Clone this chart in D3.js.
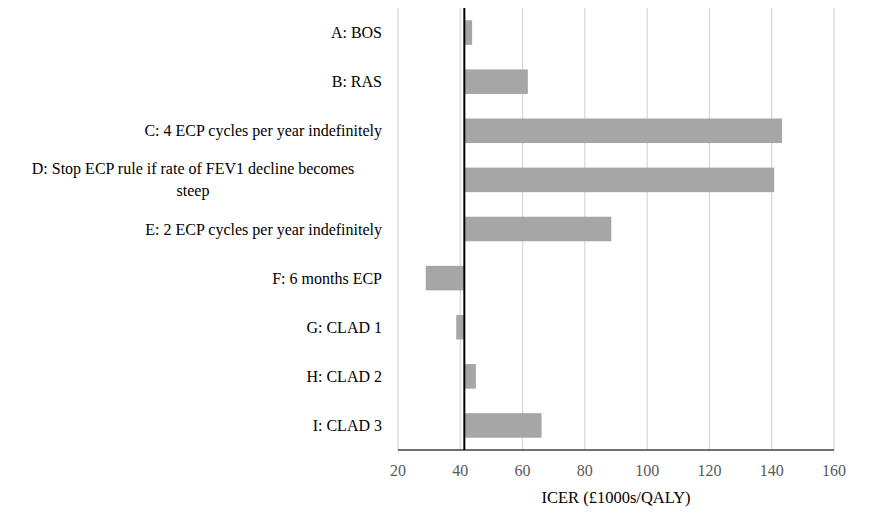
<!DOCTYPE html>
<html><head><meta charset="utf-8">
<script src="https://cdn.jsdelivr.net/npm/d3@7"></script>
<style>body{margin:0;background:#fff}</style></head>
<body><svg id="c" width="874" height="524"></svg>
<script>
const categories = [["A: BOS"],["B: RAS"],["C: 4 ECP cycles per year indefinitely"],["D: Stop ECP rule if rate of FEV1 decline becomes","steep"],["E: 2 ECP cycles per year indefinitely"],["F: 6 months ECP"],["G: CLAD 1"],["H: CLAD 2"],["I: CLAD 3"]];
const values = [43.8, 61.7, 143.3, 140.8, 88.5, 28.9, 38.7, 45.0, 66.1];
const baseValue = 41.3;
const xTicks = [20,40,60,80,100,120,140,160];
const xTitle = "ICER (£1000s/QALY)";

const svg = d3.select("#c");
const font = "Liberation Serif";
const x = d3.scaleLinear().domain([20,160]).range([398,834]);
const y = d3.scaleBand().domain(d3.range(values.length)).range([8,450]).paddingInner(0.5).paddingOuter(0.25);

svg.append("g").selectAll("line").data(xTicks).join("line")
  .attr("x1",d=>x(d)).attr("x2",d=>x(d)).attr("y1",8).attr("y2",450)
  .attr("stroke","#d9d9d9").attr("stroke-width",1.3);

svg.append("g").selectAll("rect").data(values).join("rect")
  .attr("x",d=>x(Math.min(d,baseValue))).attr("width",d=>Math.abs(x(d)-x(baseValue)))
  .attr("y",(d,i)=>y(i)).attr("height",y.bandwidth()).attr("fill","#a6a6a6");

svg.append("line").attr("x1",398).attr("x2",834).attr("y1",450).attr("y2",450).attr("stroke","#404040").attr("stroke-width",1.3);
svg.append("line").attr("x1",x(baseValue)).attr("x2",x(baseValue)).attr("y1",8).attr("y2",450).attr("stroke","#000").attr("stroke-width",2);

svg.append("g").selectAll("text").data(xTicks).join("text")
  .attr("x",d=>x(d)).attr("y",476).attr("text-anchor","middle")
  .attr("font-family",font).attr("font-size",16).attr("fill","#595959").text(d=>d);

svg.append("text").attr("x",x(90)).attr("y",503).attr("text-anchor","middle")
  .attr("font-family",font).attr("font-size",16.5).attr("fill","#000").text(xTitle);

const lab = svg.append("g");
categories.forEach((lines,i)=>{
  const cy = y(i)+y.bandwidth()/2;
  if(lines.length===1){
    lab.append("text").attr("x",382).attr("y",cy+5.5).attr("text-anchor","end")
      .attr("font-family",font).attr("font-size",16).attr("fill","#000").text(lines[0]);
  } else {
    lines.forEach((t,j)=>{
      lab.append("text").attr("x",193).attr("y",cy+5.5+(j-(lines.length-1)/2)*22).attr("text-anchor","middle")
        .attr("font-family",font).attr("font-size",16).attr("fill","#000").text(t);
    });
  }
});
</script></body></html>
